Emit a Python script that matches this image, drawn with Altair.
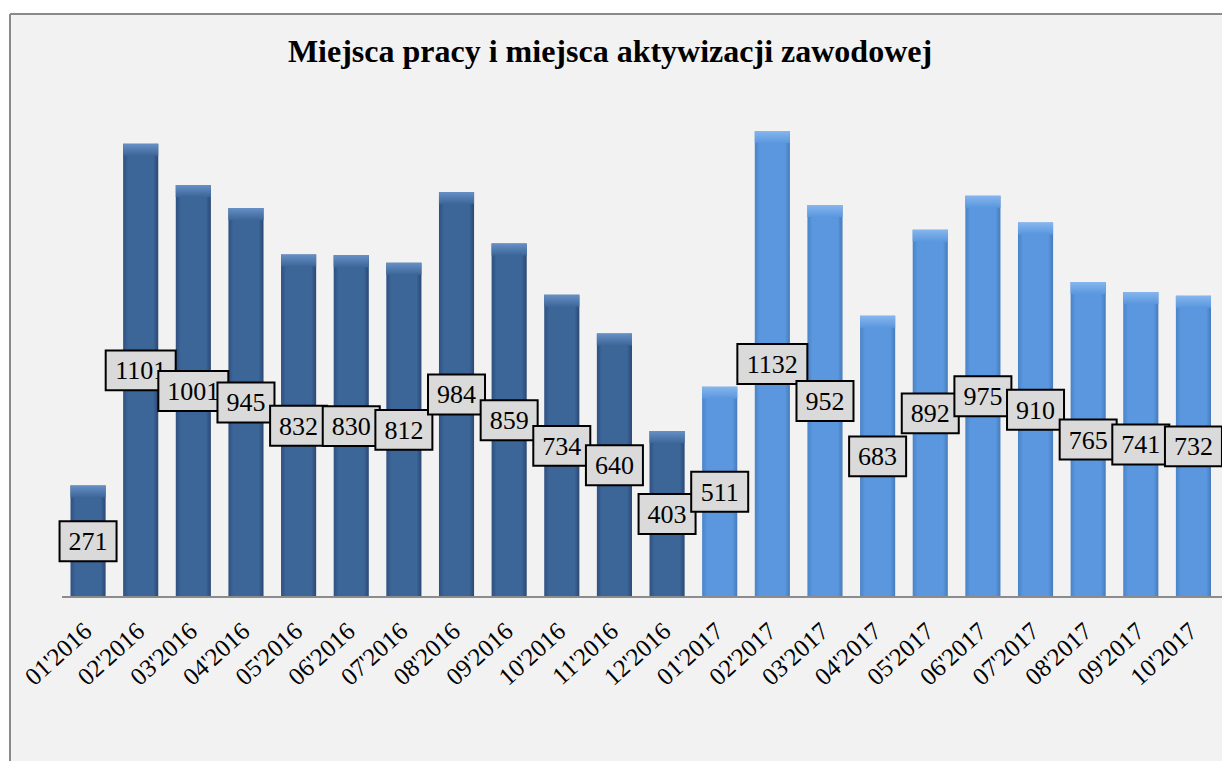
import altair as alt
import pandas as pd

# ---- data ----
months = ["01'2016", "02'2016", "03'2016", "04'2016", "05'2016", "06'2016",
          "07'2016", "08'2016", "09'2016", "10'2016", "11'2016", "12'2016",
          "01'2017", "02'2017", "03'2017", "04'2017", "05'2017", "06'2017",
          "07'2017", "08'2017", "09'2017", "10'2017"]
values = [271, 1101, 1001, 945, 832, 830, 812, 984, 859, 734, 640, 403,
          511, 1132, 952, 683, 892, 975, 910, 765, 741, 732]
title_text = ["Miejsca pracy i miejsca aktywizacji zawodowej"]

# ---- styling / layout ----
FONT = "Liberation Serif"
PAD_L, PAD_T = 2, 6
W, H = 1212, 747
X_RANGE = [60.5, 1201.0]
ZERO_PX = 583.0
K = 466.0 / 1132.0
Y_DOMAIN = [-(H - ZERO_PX) / K, ZERO_PX / K]
BEVEL = 12.0 / K
BOX3 = "M-1,-0.70L1,-0.70L1,0.70L-1,0.70Z"
BOX4 = "M-1,-0.57L1,-0.57L1,0.57L-1,0.57Z"
FRAME = "#8a8a8a"

df = pd.DataFrame({"month": months, "value": values})
df["idx"] = range(len(df))
df["year"] = df["month"].str[-4:]
df["lbl"] = df["value"].astype(str)
df["shp"] = [BOX4 if len(s) == 4 else BOX3 for s in df["lbl"]]
df["sz"] = [4900 if len(s) == 4 else 3249 for s in df["lbl"]]
df["half"] = df["value"] / 2


def hgrad(edge_l, body, edge_r):
    return {"gradient": "linear", "x1": 0, "y1": 0, "x2": 1, "y2": 0,
            "stops": [{"offset": 0, "color": edge_l},
                      {"offset": 0.14, "color": body},
                      {"offset": 0.86, "color": body},
                      {"offset": 1, "color": edge_r}]}


def vgrad(top, body):
    return {"gradient": "linear", "x1": 0, "y1": 0, "x2": 0, "y2": 1,
            "stops": [{"offset": 0, "color": top},
                      {"offset": 1, "color": body}]}


x = alt.X("month:N",
          scale=alt.Scale(domain=months, range=X_RANGE, paddingInner=0.333,
                          paddingOuter=0),
          axis=alt.Axis(title=None, labelAngle=-42, labelAlign="right",
                        labelBaseline="middle", labelFont=FONT, labelFontSize=25,
                        labelColor="black", ticks=False, domain=False,
                        labelPadding=30, offset=-(H - ZERO_PX), labelOverlap=False,
                        grid=False))
yscale = alt.Scale(domain=Y_DOMAIN, nice=False, zero=False)
Yv = alt.Y("value:Q", scale=yscale, axis=None)
Yh = alt.Y("half:Q", scale=yscale, axis=None)

base = alt.Chart(df)

layers = []
for yr, (el, body, er, top) in {
        "2016": ("#2e5080", "#3c6598", "#2a4873", "#6790c6"),
        "2017": ("#4a82c6", "#5a97de", "#467bbb", "#86b6ee")}.items():
    sub = base.transform_filter(alt.datum.year == yr)
    layers.append(sub.mark_bar(color=hgrad(el, body, er)).encode(
        x=x, y=Yv, y2=alt.datum(0)))
    layers.append(sub.transform_calculate(bev=f"datum.value - {BEVEL}").mark_bar(
        color=vgrad(top, body)).encode(x=x, y=Yv, y2=alt.Y2("bev:Q")))

axis_line = alt.Chart(pd.DataFrame({"z": [0]})).mark_rule(
    color="#8c8c8c", strokeWidth=2
).encode(y=alt.Y("z:Q", scale=yscale, axis=None), x=alt.value(52), x2=alt.value(W + 10))
layers.append(axis_line)

# label boxes and their numbers, one pair at a time so later boxes cover earlier ones
for i in df["idx"]:
    one = base.transform_filter(alt.datum.idx == int(i))
    layers.append(one.mark_point(
        filled=True, fill="#dadada", stroke="black", strokeWidth=2,
        fillOpacity=1, strokeOpacity=1
    ).encode(x=x, y=Yh,
             shape=alt.Shape("shp:N", scale=None, legend=None),
             size=alt.Size("sz:Q", scale=None, legend=None)))
    layers.append(one.mark_text(
        font=FONT, fontSize=26, color="black", baseline="middle",
        align="center", dy=1
    ).encode(x=x, y=Yh, text="lbl:N"))

title = alt.Chart(pd.DataFrame({"t": title_text})).mark_text(
    font=FONT, fontSize=32, fontWeight="bold", color="black",
    align="center", baseline="alphabetic"
).encode(text="t:N", x=alt.value(600), y=alt.value(48))

frame_left = alt.Chart(pd.DataFrame({"z": [0]})).mark_rule(
    color=FRAME, strokeWidth=2
).encode(x=alt.value(0), y=alt.value(0), y2=alt.value(H + 10))
frame_top = alt.Chart(pd.DataFrame({"z": [0]})).mark_rule(
    color=FRAME, strokeWidth=2
).encode(y=alt.value(0), x=alt.value(0), x2=alt.value(W + 10))

chart = alt.layer(*layers, title, frame_left, frame_top).properties(
    width=W, height=H,
    autosize=alt.AutoSizeParams(type="none"),
    padding={"left": PAD_L, "top": PAD_T, "right": 0, "bottom": 0},
).configure_view(fill="#f2f2f2", stroke=None)

chart.save("out.html", embed_options={"renderer": "svg", "actions": False})
